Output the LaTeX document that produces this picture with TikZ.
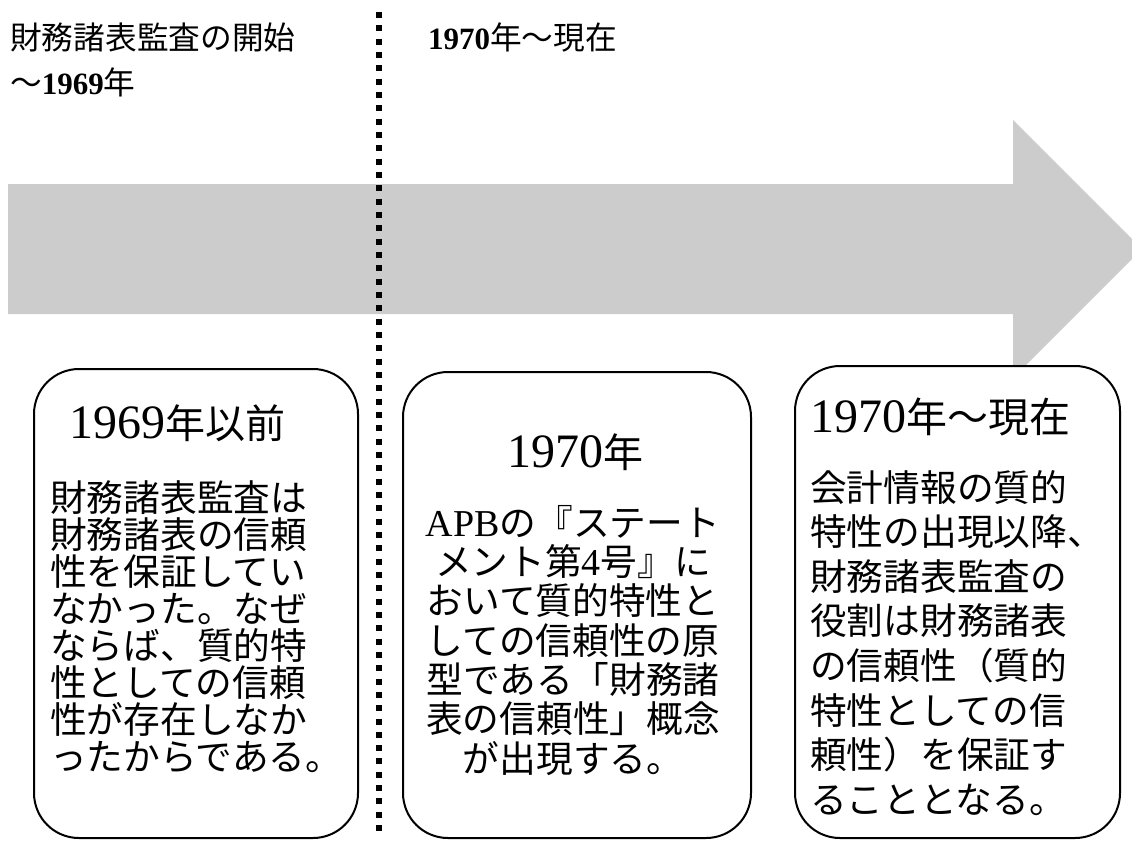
\documentclass[tikz,border=0pt]{standalone}
\usepackage{fontspec}
\newfontfamily\jp{Noto Sans CJK JP}
\newfontfamily\tms{Liberation Serif}[BoldFont={Liberation Serif Bold}]
\definecolor{arrowgray}{HTML}{CCCCCC}
\newcommand{\hdr}{\jp\fontsize{31.7}{36}\selectfont}
\newcommand{\hdig}[1]{{\tms\bfseries\fontsize{31}{36}\selectfont #1}}
\newcommand{\tdig}[1]{{\tms\fontsize{48}{50}\selectfont #1}}
\newcommand{\bdig}[1]{{\tms\fontsize{38}{38}\selectfont #1}}
\tikzset{
  roundbox/.style={draw=black, line width=2pt, fill=white, rounded corners=45pt, inner sep=0pt},
  hdrtext/.style={inner sep=0pt, anchor=west, font=\hdr},
  titletext/.style={inner sep=0pt, font=\jp\fontsize{40}{44}\selectfont},
  bodytext/.style={inner sep=0pt, font=\jp\fontsize{36.7}{37}\selectfont},
}
\begin{document}
\begin{tikzpicture}[x=1pt,y=-1pt]
\useasboundingbox (0,0) rectangle (1132,841);
\clip (0,0) rectangle (1132,841);
% big arrow
\fill[arrowgray] (8,184) -- (1013,184) -- (1013,120) -- (1142,249) -- (1013,378) -- (1013,314) -- (8,314) -- cycle;
% dotted divider
\coordinate (dtop) at (379,12);
\coordinate (dbot) at (379,832);
\draw[line width=6pt, dash pattern=on 6pt off 7.33pt] (dtop) -- (dbot);
% header texts
\node[hdrtext] (h1) at (10,37) {財務諸表監査の開始};
\node[hdrtext] (h2) at (10,82) {〜\hdig{1969}年};
\node[hdrtext] (h3) at (428,37) {\hdig{1970}年〜現在};
% boxes
\node[roundbox, minimum width=324pt, minimum height=469pt] (b1) at (196,603.5) {};
\node[roundbox, minimum width=348pt, minimum height=466pt] (b2) at (577,605) {};
\node[roundbox, minimum width=325pt, minimum height=472pt] (b3) at (957.5,602) {};
% box 1 text
\node[titletext] (t1) at (177,423) {\tdig{1969}年以前};
\node[bodytext, anchor=north west, align=left] (p1) at (50,480) {財務諸表監査は\\財務諸表の信頼\\性を保証してい\\なかった。なぜ\\ならば、質的特\\性としての信頼\\性が存在しなか\\ったからである。};
% box 2 text
\node[titletext] (t2) at (575,452) {\tdig{1970}年};
\node[bodytext, anchor=north, align=center, font=\jp\fontsize{36.7}{39.3}\selectfont] (p2) at (573,505) {\bdig{APB}の『ステート\\メント第\bdig{4}号』に\\おいて質的特性と\\しての信頼性の原\\型である「財務諸\\表の信頼性」概念\\が出現する。};
% box 3 text
\node[titletext, anchor=west, font=\jp\fontsize{41}{44}\selectfont] (t3) at (810,417) {\tdig{1970}年〜現在};
\node[bodytext, anchor=north west, align=left, font=\jp\fontsize{36.7}{44.6}\selectfont] (p3) at (810,470) {会計情報の質的\\特性の出現以降、\\財務諸表監査の\\役割は財務諸表\\の信頼性（質的\\特性としての信\\頼性）を保証す\\ることとなる。};
\end{tikzpicture}
\end{document}
